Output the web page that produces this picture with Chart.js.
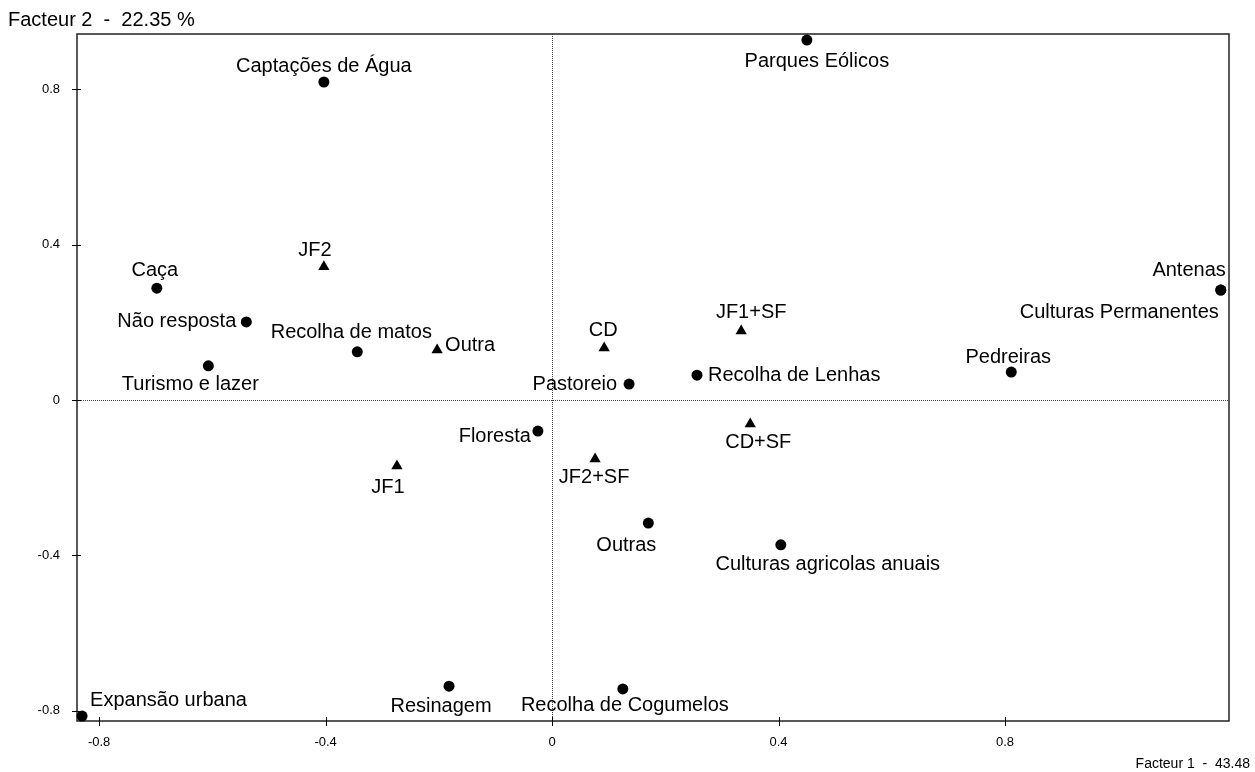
<!DOCTYPE html>
<html><head><meta charset="utf-8">
<script src="https://cdn.jsdelivr.net/npm/chart.js@4/dist/chart.umd.min.js"></script>
<style>html,body{margin:0;padding:0;background:#fff;}#wrap{width:1255px;height:772px;}</style>
</head><body><div id="wrap"><canvas id="c" width="1255" height="772"></canvas></div>
<script>
// ---- data ----
const pointLabels = ['Parques Eólicos','Captações de Água','JF2','Caça','Não resposta','Turismo e lazer','Recolha de matos','Outra','CD','JF1+SF','Pastoreio','Recolha de Lenhas','Antenas','Culturas Permanentes','Pedreiras','Floresta','CD+SF','JF2+SF','JF1','Outras','Culturas agricolas anuais','Resinagem','Recolha de Cogumelos','Expansão urbana'];
const factor1 = [0.450,-0.403,-0.403,-0.698,-0.540,-0.607,-0.344,-0.203,0.092,0.334,0.136,0.256,1.181,1.181,0.811,-0.025,0.350,0.076,-0.274,0.170,0.404,-0.182,0.125,-0.830];
const factor2 = [0.927,0.819,0.343,0.288,0.201,0.088,0.124,0.129,0.134,0.178,0.041,0.064,0.283,0.283,0.072,-0.080,-0.062,-0.152,-0.170,-0.317,-0.373,-0.737,-0.744,-0.814];
const markerTypes = ['circle','circle','triangle','circle','circle','circle','circle','triangle','triangle','triangle','circle','circle','circle','circle','circle','circle','triangle','triangle','triangle','circle','circle','circle','circle','circle'];
const xTickValues = [-0.8,-0.4,0,0.4,0.8];
const xTickLabels = ['-0.8','-0.4','0','0.4','0.8'];
const yTickValues = [-0.8,-0.4,0,0.4,0.8];
const yTickLabels = ['-0.8','-0.4','0','0.4','0.8'];
const xTitle = 'Facteur 1  -  43.48';
const yTitle = 'Facteur 2  -  22.35 %';

// ---- label placement (style): [dx, dy, align] ----
const labelPlacement = [
  [10,21,'center'],[0,-16,'center'],[-9,-16,'center'],[-2,-18,'center'],[-10,0,'right'],[-18,19,'center'],
  [-6,-19,'center'],[8,-4,'left'],[-1,-17,'center'],[10,-18,'center'],[-12,0,'right'],[11,0,'left'],
  [5,-20,'right'],[-2,22,'right'],[-3,-15,'center'],[-7,5,'right'],[8,18,'center'],[-1,18,'center'],
  [-9,21,'center'],[-22,22,'center'],[47,20,'center'],[-8,20,'center'],[2,17,'center'],[8,-16,'left']
];

const FONT = '"Liberation Sans", Arial, sans-serif';
const LABEL_SIZE = 20;

const framePlugin = {
  id: 'frame',
  beforeDatasetsDraw(chart) {
    const {ctx, chartArea: a, scales: {x, y}} = chart;
    ctx.save();
    ctx.strokeStyle = '#444';
    ctx.lineWidth = 1;
    ctx.setLineDash([1, 1]);
    const x0 = Math.round(x.getPixelForValue(0)) + 0.5;
    const y0 = Math.round(y.getPixelForValue(0)) + 0.5;
    ctx.beginPath();
    ctx.moveTo(x0, a.top); ctx.lineTo(x0, a.bottom);
    ctx.moveTo(a.left, y0); ctx.lineTo(a.right, y0);
    ctx.stroke();
    ctx.setLineDash([]);
    ctx.strokeStyle = '#222';
    ctx.lineWidth = 1.5;
    ctx.strokeRect(a.left, a.top, a.right - a.left, a.bottom - a.top);
    ctx.strokeStyle = '#000';
    ctx.lineWidth = 1;
    ctx.beginPath();
    xTickValues.forEach(v => {
      const px = Math.round(x.getPixelForValue(v)) + 0.5;
      ctx.moveTo(px, a.bottom - 4); ctx.lineTo(px, a.bottom + 5);
    });
    yTickValues.forEach(v => {
      const py = Math.round(y.getPixelForValue(v)) + 0.5;
      ctx.moveTo(a.left - 5, py); ctx.lineTo(a.left + 4, py);
    });
    ctx.stroke();
    ctx.restore();
  },
  afterDatasetsDraw(chart) {
    const {ctx} = chart;
    const meta = chart.getDatasetMeta(0);
    ctx.save();
    ctx.fillStyle = '#000';
    ctx.font = LABEL_SIZE + 'px ' + FONT;
    ctx.textBaseline = 'middle';
    meta.data.forEach((el, i) => {
      const [dx, dy, align] = labelPlacement[i];
      ctx.textAlign = align;
      ctx.fillText(pointLabels[i], el.x + dx, el.y + dy);
    });
    ctx.textBaseline = 'alphabetic';
    ctx.font = '20px ' + FONT;
    ctx.textAlign = 'left';
    ctx.fillText(yTitle, 8, 26);
    ctx.font = '14px ' + FONT;
    ctx.textAlign = 'right';
    ctx.fillText(xTitle, 1250, 768);
    ctx.restore();
  }
};

new Chart(document.getElementById('c'), {
  type: 'scatter',
  data: {
    datasets: [{
      data: factor1.map((v, i) => ({x: v, y: factor2[i]})),
      pointStyle: markerTypes,
      pointRadius: markerTypes.map(t => t === 'triangle' ? 6.5 : 5.5),
      backgroundColor: '#000',
      borderColor: '#000',
      borderWidth: 0,
      clip: false
    }]
  },
  options: {
    responsive: false,
    animation: false,
    devicePixelRatio: 1,
    layout: {padding: {top: 34, right: 26, left: 0, bottom: 0}},
    plugins: {legend: {display: false}, tooltip: {enabled: false}},
    scales: {
      x: {
        type: 'linear', min: -0.839, max: 1.1955,
        afterBuildTicks: s => { s.ticks = xTickValues.map(v => ({value: v})); },
        afterFit: s => { s.height = 51; },
        ticks: {callback: (v, i) => xTickLabels[i], font: {family: FONT, size: 13}, color: '#000', padding: 14, maxRotation: 0, autoSkip: false},
        grid: {display: false, drawTicks: false, tickLength: 0},
        border: {display: false}
      },
      y: {
        type: 'linear', min: -0.8267, max: 0.9426,
        afterBuildTicks: s => { s.ticks = yTickValues.map(v => ({value: v})); },
        afterFit: s => { s.width = 77; },
        ticks: {callback: (v, i) => yTickLabels[i], font: {family: FONT, size: 13}, color: '#000', padding: 17, autoSkip: false},
        grid: {display: false, drawTicks: false, tickLength: 0},
        border: {display: false}
      }
    }
  },
  plugins: [framePlugin]
});
</script></body></html>
